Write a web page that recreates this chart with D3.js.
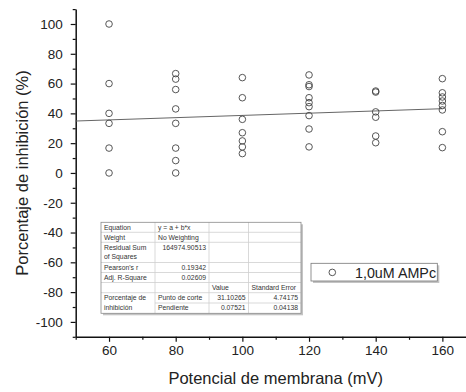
<!DOCTYPE html>
<html>
<head>
<meta charset="utf-8">
<script src="https://cdn.jsdelivr.net/npm/d3@7"></script>
<style>
  body { margin: 0; background: #fff; }
  svg { display: block; font-family: "Liberation Sans", Arial, sans-serif; }
</style>
</head>
<body>
<svg id="chart" width="466" height="392"></svg>
<script>
// membrane potential groups (mV) and inhibition values (%) read per group
const potentials = [60, 80, 100, 120, 140, 160];
const inhib60 = [100, 60, 40, 33.3, 16.7, 0];
const inhib80 = [66.7, 63, 56, 43, 33.3, 16.7, 8.3, 0];
const inhib100 = [64, 50.5, 36, 27, 21.5, 17.5, 13];
const inhib120 = [65.8, 59.2, 58, 50.5, 47.2, 44.5, 38.5, 29.5, 17.5];
const inhib140 = [55, 54.3, 41, 37.4, 24.8, 20.3];
const inhib160 = [63.3, 53.8, 51, 48.3, 45.3, 42.3, 27.7, 17];
const groups = [inhib60, inhib80, inhib100, inhib120, inhib140, inhib160];

// linear fit
const intercept = 31.10265;
const slope = 0.07521;
const fitRange = [50, 160];

const xMajorTicks = [60, 80, 100, 120, 140, 160];
const xMinorTicks = [50, 70, 90, 110, 130, 150, 170];
const yMajorTicks = [-100, -80, -60, -40, -20, 0, 20, 40, 60, 80, 100];
const yMinorTicks = [-110, -90, -70, -50, -30, -10, 10, 30, 50, 70, 90, 110];

const xTitle = 'Potencial de membrana (mV)';
const yTitle = 'Porcentaje de inhibición (%)';
const seriesName = '1,0uM AMPc';

// stats table text
const tableRows = [
  ['Equation', 'y = a + b*x', '', ''],
  ['Weight', 'No Weighting', '', ''],
  [['Residual Sum', 'of Squares'], '164974.90513', '', ''],
  ["Pearson's r", '0.19342', '', ''],
  ['Adj. R-Square', '0.02609', '', ''],
  ['', '', 'Value', 'Standard Error'],
  [['Porcentaje de', 'inhibición'], 'Punto de corte', '31.10265', '4.74175'],
  [null, 'Pendiente', '0.07521', '0.04138']
];

const svg = d3.select('#chart');

const x = d3.scaleLinear().domain([50, 170]).range([75.7, 475.7]);
const y = d3.scaleLinear().domain([-110, 110]).range([336.8, 9.1]);

const axisColor = '#111';

// minor ticks
svg.append('g')
  .attr('transform', `translate(0,${y(-110)})`)
  .call(d3.axisBottom(x).tickValues(xMinorTicks).tickSize(3).tickFormat(''))
  .call(g => g.select('.domain').remove());
svg.append('g')
  .attr('transform', `translate(${x(50)},0)`)
  .call(d3.axisLeft(y).tickValues(yMinorTicks).tickSize(3).tickFormat(''))
  .call(g => g.select('.domain').remove());

// major axes
const xAxis = svg.append('g')
  .attr('transform', `translate(0,${y(-110)})`)
  .call(d3.axisBottom(x).tickValues(xMajorTicks).tickSize(5).tickSizeOuter(0).tickPadding(4)
    .tickFormat(d => String(d)));
const yAxis = svg.append('g')
  .attr('transform', `translate(${x(50)},0)`)
  .call(d3.axisLeft(y).tickValues(yMajorTicks).tickSize(5).tickSizeOuter(0).tickPadding(8)
    .tickFormat(d => String(d)));

svg.selectAll('.tick line').attr('stroke', axisColor).attr('stroke-width', 1.2);
svg.selectAll('.domain').attr('stroke', axisColor).attr('stroke-width', 1.5);
svg.selectAll('.tick text')
  .attr('fill', '#222')
  .style('font-size', '13.5px')
  .style('font-family', '"Liberation Sans", Arial, sans-serif');

// axis titles
svg.append('text')
  .attr('x', (x(50) + x(170)) / 2)
  .attr('y', 384)
  .attr('text-anchor', 'middle')
  .attr('fill', '#222')
  .style('font-size', '16.5px')
  .text(xTitle);

svg.append('text')
  .attr('transform', `translate(28,${(y(110) + y(-110)) / 2}) rotate(-90)`)
  .attr('text-anchor', 'middle')
  .attr('fill', '#222')
  .style('font-size', '16.5px')
  .text(yTitle);

// fit line
svg.append('line')
  .attr('x1', x(fitRange[0]))
  .attr('y1', y(intercept + slope * fitRange[0]))
  .attr('x2', x(fitRange[1]))
  .attr('y2', y(intercept + slope * fitRange[1]))
  .attr('stroke', '#666')
  .attr('stroke-width', 1);

// scatter points
const points = [];
groups.forEach((vals, i) => vals.forEach(v => points.push({ mv: potentials[i], val: v })));

svg.append('g')
  .selectAll('circle')
  .data(points)
  .join('circle')
  .attr('cx', d => x(d.mv))
  .attr('cy', d => y(d.val))
  .attr('r', 3.3)
  .attr('fill', 'none')
  .attr('stroke', '#444')
  .attr('stroke-width', 0.9);

// stats table
const colX = [101, 155, 209, 248.5, 301];
const rowY = [222.3, 232.3, 242.3, 262.5, 272.5, 282.5, 292.7, 303, 313.3];
const table = svg.append('g').style('font-size', '6.8px');

table.append('rect')
  .attr('x', colX[0] + 2).attr('y', rowY[0] + 2)
  .attr('width', colX[4] - colX[0]).attr('height', rowY[8] - rowY[0])
  .attr('fill', '#c4c4c4');
table.append('rect')
  .attr('x', colX[0]).attr('y', rowY[0])
  .attr('width', colX[4] - colX[0]).attr('height', rowY[8] - rowY[0])
  .attr('fill', '#fff');

// inner grid lines
const gridColor = '#cfcfcf';
for (let r = 1; r < 8; r++) {
  const x1 = r === 7 ? colX[1] : colX[0];
  table.append('line')
    .attr('x1', x1).attr('x2', colX[4])
    .attr('y1', rowY[r]).attr('y2', rowY[r])
    .attr('stroke', gridColor).attr('stroke-width', 0.8);
}
for (let c = 1; c < 4; c++) {
  table.append('line')
    .attr('x1', colX[c]).attr('x2', colX[c])
    .attr('y1', rowY[0]).attr('y2', rowY[8])
    .attr('stroke', gridColor).attr('stroke-width', 0.8);
}
table.append('rect')
  .attr('x', colX[0]).attr('y', rowY[0])
  .attr('width', colX[4] - colX[0]).attr('height', rowY[8] - rowY[0])
  .attr('fill', 'none').attr('stroke', '#8a8a8a').attr('stroke-width', 0.8);

const rightAligned = (r, c) => (c === 1 && r >= 2 && r <= 4) || (c >= 2 && r >= 6);
tableRows.forEach((row, r) => {
  row.forEach((cell, c) => {
    if (!cell) return;
    const lines = Array.isArray(cell) ? cell : [cell];
    const right = rightAligned(r, c);
    lines.forEach((ln, k) => {
      table.append('text')
        .attr('x', right ? colX[c + 1] - 3 : colX[c] + 3)
        .attr('y', rowY[r] + 7.3 + k * 9.6)
        .attr('text-anchor', right ? 'end' : 'start')
        .attr('fill', '#333')
        .text(ln);
    });
  });
});

// legend
const leg = svg.append('g');
leg.append('rect').attr('x', 313).attr('y', 265.3).attr('width', 126.3).attr('height', 17.7).attr('fill', '#c4c4c4');
leg.append('rect').attr('x', 311).attr('y', 263.3).attr('width', 126.3).attr('height', 17.7)
  .attr('fill', '#fff').attr('stroke', '#777').attr('stroke-width', 0.8);
leg.append('circle').attr('cx', 332.3).attr('cy', 272.4).attr('r', 3.3)
  .attr('fill', 'none').attr('stroke', '#444').attr('stroke-width', 0.9);
leg.append('text').attr('x', 355).attr('y', 277.5)
  .attr('fill', '#222').style('font-size', '14.3px').text(seriesName);
</script>
</body>
</html>
